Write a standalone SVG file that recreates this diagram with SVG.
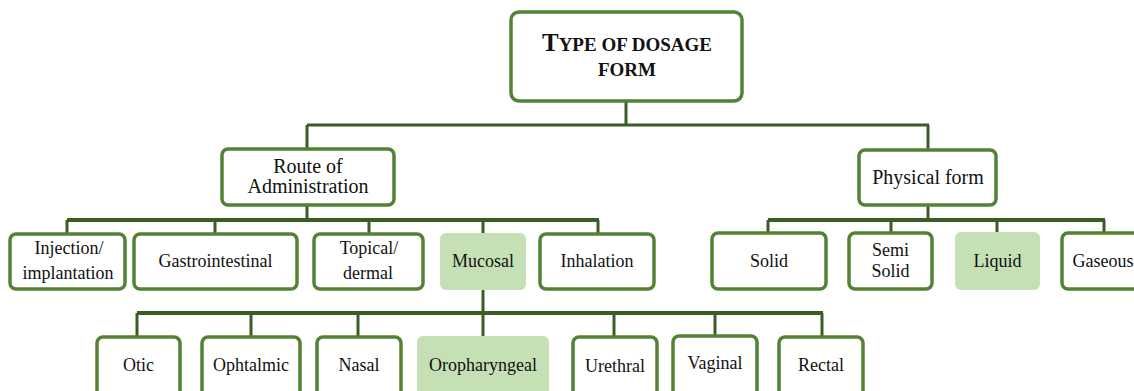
<svg xmlns="http://www.w3.org/2000/svg" width="1134" height="391" viewBox="0 0 1134 391">
<style>
.b{fill:#ffffff;stroke:#548235;stroke-width:3.5}
.f{fill:#c5e0b4;stroke:none}
.c{fill:none;stroke:#3a5d24;stroke-width:3}
.ct{fill:none;stroke:#3a5d24;stroke-width:4}
text{font-family:"Liberation Serif","Times New Roman",serif;fill:#111111;text-anchor:middle}
.l1{font-size:20px}
.l2{font-size:18px}
.t{font-weight:bold}
</style>
<rect width="1134" height="391" fill="#ffffff"/>
<g id="connectors">
<path class="c" d="M626 101V125M307 125H929M307 125V149M928 125V150"/>
<path class="c" d="M307 205V220M67 220V234M215 220V234M369 220V234M483 220V234M598 220V234"/>
<path class="ct" d="M67 220H599"/>
<path class="c" d="M928 205V220M768 220V233M891 220V233M997 220V233M1104 220V233"/>
<path class="ct" d="M768 220H1105"/>
<path class="c" d="M483 289V337M137 313V337M251 313V337M358 313V337M614 313V337M715 313V336M822 313V337"/>
<path class="ct" d="M137 313H823"/>
</g>
<g id="root">
<rect class="b" x="511" y="12" width="231" height="89" rx="8"/>
<text class="t" x="627" y="51"><tspan font-size="25">T</tspan><tspan font-size="19">YPE OF DOSAGE</tspan></text>
<text class="t" x="627" y="76" font-size="19">FORM</text>
</g>
<g id="route">
<rect class="b" x="222" y="149" width="172" height="56" rx="6"/>
<text class="l1" x="308" y="173">Route of</text>
<text class="l1" x="308" y="193">Administration</text>
</g>
<g id="physical">
<rect class="b" x="859" y="150" width="137" height="55" rx="6"/>
<text class="l1" x="928" y="184">Physical form</text>
</g>
<g id="injection">
<rect class="b" x="10" y="234" width="115" height="55" rx="6"/>
<text class="l2" x="69" y="254">Injection/</text>
<text class="l2" x="68" y="279">implantation</text>
</g>
<g id="gastro">
<rect class="b" x="134" y="234" width="163" height="55" rx="6"/>
<text class="l2" x="215.5" y="267">Gastrointestinal</text>
</g>
<g id="topical">
<rect class="b" x="314" y="234" width="109" height="55" rx="6"/>
<text class="l2" x="369" y="254">Topical/</text>
<text class="l2" x="368" y="279">dermal</text>
</g>
<g id="mucosal">
<rect class="f" x="440" y="233" width="86" height="57" rx="6"/>
<text class="l2" x="483" y="267">Mucosal</text>
</g>
<g id="inhalation">
<rect class="b" x="540" y="234" width="114" height="55" rx="6"/>
<text class="l2" x="597" y="267">Inhalation</text>
</g>
<g id="solid">
<rect class="b" x="712" y="233" width="114" height="56" rx="6"/>
<text class="l2" x="769" y="267">Solid</text>
</g>
<g id="semisolid">
<rect class="b" x="849" y="233" width="83" height="56" rx="6"/>
<text class="l2" x="890.5" y="256">Semi</text>
<text class="l2" x="890.5" y="277">Solid</text>
</g>
<g id="liquid">
<rect class="f" x="955" y="232" width="85" height="58" rx="6"/>
<text class="l2" x="997.5" y="267">Liquid</text>
</g>
<g id="gaseous">
<rect class="b" x="1062" y="233" width="86" height="56" rx="6"/>
<text class="l2" x="1103" y="267">Gaseous</text>
</g>
<g id="otic">
<rect class="b" x="97" y="337" width="83" height="64" rx="6"/>
<text class="l2" x="138.5" y="371">Otic</text>
</g>
<g id="ophtalmic">
<rect class="b" x="202" y="337" width="98" height="64" rx="6"/>
<text class="l2" x="251" y="371">Ophtalmic</text>
</g>
<g id="nasal">
<rect class="b" x="317" y="337" width="84" height="64" rx="6"/>
<text class="l2" x="359" y="371">Nasal</text>
</g>
<g id="oropharyngeal">
<rect class="f" x="417" y="336" width="132" height="66" rx="6"/>
<text class="l2" x="483" y="371">Oropharyngeal</text>
</g>
<g id="urethral">
<rect class="b" x="573" y="337" width="84" height="64" rx="6"/>
<text class="l2" x="615" y="372">Urethral</text>
</g>
<g id="vaginal">
<rect class="b" x="673" y="336" width="84" height="65" rx="6"/>
<text class="l2" x="715" y="369">Vaginal</text>
</g>
<g id="rectal">
<rect class="b" x="779" y="337" width="84" height="64" rx="6"/>
<text class="l2" x="821" y="371">Rectal</text>
</g>
</svg>
